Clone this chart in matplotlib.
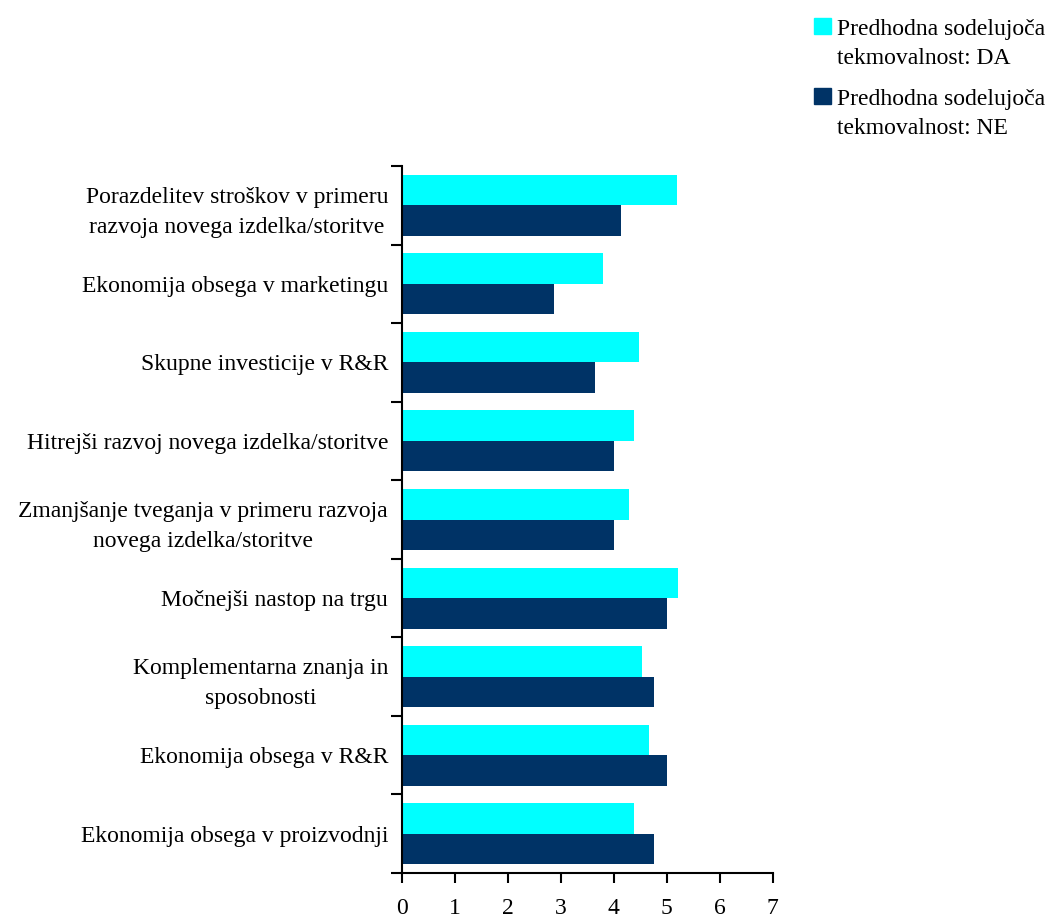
import numpy as np
import matplotlib
matplotlib.use("Agg")
import matplotlib.pyplot as plt
from matplotlib.patches import Rectangle

plt.rcParams['font.family'] = ['Liberation Serif', 'DejaVu Serif']

categories = [
    "Porazdelitev stroškov v primeru\nrazvoja novega izdelka/storitve",
    "Ekonomija obsega v marketingu",
    "Skupne investicije v R&R",
    "Hitrejši razvoj novega izdelka/storitve",
    "Zmanjšanje tveganja v primeru razvoja\nnovega izdelka/storitve",
    "Močnejši nastop na trgu",
    "Komplementarna znanja in\nsposobnosti",
    "Ekonomija obsega v R&R",
    "Ekonomija obsega v proizvodnji",
]
vals_da = [5.19, 3.79, 4.47, 4.39, 4.28, 5.22, 4.54, 4.66, 4.39]
vals_ne = [4.13, 2.88, 3.64, 4.01, 4.01, 5.00, 4.77, 5.00, 4.77]
series_labels = ["Predhodna sodelujoča\ntekmovalnost: DA",
                 "Predhodna sodelujoča\ntekmovalnost: NE"]
colors = ["#00FFFF", "#003366"]

fs = 17
fig = plt.figure(figsize=(10.48, 9.18), dpi=100)
ax = fig.add_axes([402 / 1048, 1 - 873 / 918, 370.5 / 1048, 707 / 918])

y = np.arange(len(categories))
h = 0.388
ax.barh(y - h / 2, vals_da, height=h, color=colors[0])
ax.barh(y + h / 2, vals_ne, height=h, color=colors[1])

ax.set_xlim(0, 7)
ax.set_ylim(len(categories) - 0.5, -0.5)
ax.set_xticks(range(8))
ax.set_yticks(y)
ax.set_yticklabels(categories, fontsize=fs)
for lbl in ax.get_yticklabels():
    lbl.set_multialignment('center')
    lbl.set_linespacing(1.55)
ax.set_yticks(np.arange(-0.5, len(categories)), minor=True)
ax.tick_params(axis='y', which='major', length=0, pad=10)
ax.tick_params(axis='y', which='minor', length=8, width=1.5, direction='out')
ax.tick_params(axis='x', length=7, width=1.5, direction='out', labelsize=fs, pad=11)

for side in ('top', 'right'):
    ax.spines[side].set_visible(False)
for side in ('left', 'bottom'):
    ax.spines[side].set_linewidth(1.5)

# legend drawn by hand so the swatch sits at the first text line
for i, (lab, col) in enumerate(zip(series_labels, colors)):
    top = 18 + i * 70
    fig.add_artist(Rectangle((814 / 1048, 1 - (top + 16) / 918), 17 / 1048, 16 / 918,
                             transform=fig.transFigure, color=col))
    fig.text(837 / 1048, 1 - (top + 1) / 918, lab, fontsize=fs, va='top', ha='left',
             linespacing=1.52)

fig.savefig("out.png", dpi=100)
